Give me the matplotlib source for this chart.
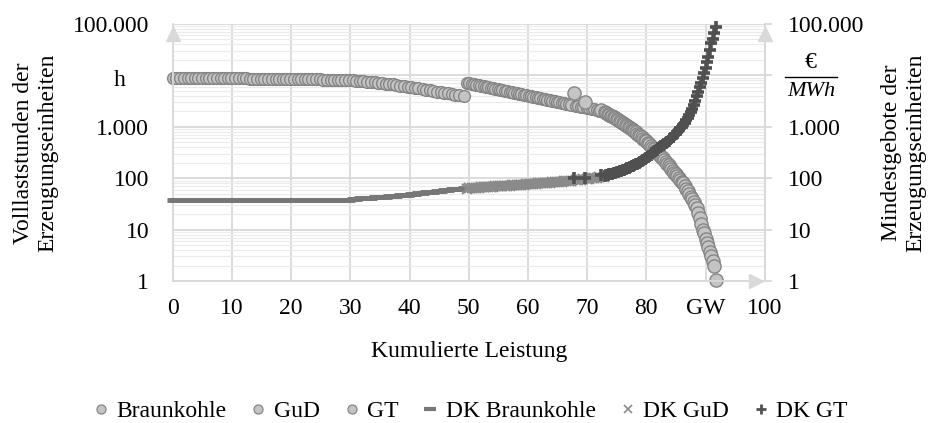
import matplotlib
matplotlib.use('Agg')
import matplotlib.pyplot as plt
from matplotlib.lines import Line2D
from matplotlib.ticker import LogLocator, NullFormatter

plt.rcParams['font.family'] = ['Liberation Serif', 'DejaVu Serif']
plt.rcParams['font.size'] = 17

# ---------------- data ----------------
x_ticks = [0, 10, 20, 30, 40, 50, 60, 70, 80, 90, 100]
x_tick_labels = ['0', '10', '20', '30', '40', '50', '60', '70', '80', 'GW', '100']
y_ticks = [1, 10, 100, 1000, 10000, 100000]
y_left_labels = ['1', '10', '100', '1.000', '', '100.000']
y_right_labels = ['1', '10', '100', '1.000', '', '100.000']

braun_x = [0.0, 0.6, 1.2, 1.9, 2.5, 3.1, 3.7, 4.3, 5.0, 5.6,
           6.2, 6.8, 7.4, 8.1, 8.7, 9.3, 9.9, 10.5, 11.2, 11.8,
           12.4, 13.0, 13.6, 14.3, 14.9, 15.5, 16.1, 16.7, 17.4, 18.0,
           18.6, 19.2, 19.8, 20.5, 21.1, 21.7, 22.3, 22.9, 23.6, 24.2,
           24.8, 25.4, 26.0, 26.7, 27.3, 27.9, 28.5, 29.1, 29.8, 30.4,
           31.0, 31.6, 32.2, 32.9, 33.5, 34.1, 34.7, 35.3, 36.0, 36.6,
           37.2, 37.8, 38.4, 39.1, 39.7, 40.3, 40.9, 41.5, 42.2, 42.8,
           43.4, 44.0, 44.6, 45.3, 45.9, 46.5, 47.1, 47.7, 48.4, 49.2]
braun_h = [8800, 8800, 8800, 8800, 8800, 8800, 8800, 8800, 8800, 8750,
           8750, 8750, 8750, 8750, 8750, 8700, 8700, 8700, 8700, 8700,
           8700, 8650, 8650, 8650, 8650, 8600, 8600, 8600, 8600, 8550,
           8550, 8550, 8500, 8500, 8500, 8450, 8450, 8400, 8400, 8350,
           8350, 8300, 8300, 8250, 8200, 8200, 8150, 8100, 8050, 8000,
           7900, 7800, 7700, 7600, 7500, 7400, 7250, 7100, 6950, 6800,
           6650, 6500, 6350, 6200, 6050, 5900, 5750, 5600, 5450, 5300,
           5150, 5000, 4850, 4700, 4580, 4460, 4340, 4220, 4110, 4000]
dk_braun = [37, 37, 37, 37, 37, 37, 37, 37, 37, 37,
            37, 37, 37, 37, 37, 37, 37, 37, 37, 37,
            37, 37, 37, 37, 37, 37, 37, 37, 37, 37,
            37, 37, 37, 37, 37, 37, 37, 37, 37, 37,
            37, 37, 37, 37, 37.5, 37.5, 38, 38, 38.5, 39,
            40, 40.5, 41, 41.5, 42, 42.5, 43, 43.5, 44, 44.5,
            45, 46, 46.5, 47.5, 48, 49, 50, 51, 52, 53,
            54, 55, 56, 57, 58, 59.5, 61, 62, 63, 64]

gud_x = [49.7, 50.1, 50.5, 50.9, 51.3, 51.7, 52.1, 52.5, 52.9, 53.3,
         53.7, 54.1, 54.5, 54.9, 55.3, 55.7, 56.1, 56.5, 56.9, 57.3,
         57.7, 58.1, 58.5, 58.9, 59.3, 59.7, 60.1, 60.5, 60.9, 61.3,
         61.7, 62.1, 62.5, 62.9, 63.3, 63.7, 64.1, 64.5, 64.9, 65.3,
         65.7, 66.1, 66.5, 66.9, 67.3, 68.1, 68.5, 68.9, 69.3, 70.0,
         70.4, 70.8, 71.2, 71.6, 72.0, 72.8]
gud_h = [7200, 7040, 6890, 6740, 6590, 6440, 6300, 6160, 6020, 5890,
         5760, 5630, 5510, 5390, 5270, 5150, 5040, 4930, 4820, 4710,
         4610, 4510, 4410, 4310, 4220, 4120, 4030, 3940, 3860, 3770,
         3690, 3610, 3530, 3450, 3370, 3300, 3230, 3160, 3090, 3020,
         2950, 2890, 2820, 2760, 2700, 2580, 2520, 2470, 2410, 2320,
         2270, 2220, 2170, 2120, 2070, 1980]
dk_gud = [63, 63.5, 64, 64.5, 65, 65.5, 66, 66.5, 67, 67.5,
          68, 68.5, 69, 69.5, 70, 70.5, 71, 71.5, 72, 72.5,
          73, 73.5, 74, 74.5, 75, 75.5, 76, 77, 77.5, 78,
          79, 79.5, 80, 81, 81.5, 82, 83, 84, 84.5, 85.5,
          86, 87, 88, 89, 90, 91.5, 92.5, 93.5, 95, 97,
          98, 99.5, 101, 102.5, 104, 107]

gt_x = [67.7, 69.6, 72.4,
        73.0, 73.25, 73.5, 73.75, 74.0, 74.25, 74.5, 74.75, 75.0, 75.25,
        75.5, 75.75, 76.0, 76.25, 76.5, 76.75, 77.0, 77.25, 77.5, 77.75,
        78.0, 78.25, 78.5, 78.75, 79.0, 79.25, 79.5, 79.75, 80.0, 80.25,
        80.5, 80.75, 81.0, 81.25, 81.5, 81.75, 82.0, 82.25, 82.5, 82.75,
        83.0, 83.25, 83.5, 83.75, 84.0, 84.25, 84.5, 84.75, 85.0, 85.25,
        85.5, 85.75, 86.0, 86.25, 86.5, 86.75, 87.0, 87.25, 87.5, 87.75,
        88.0, 88.25, 88.5, 88.75, 89.0, 89.25, 89.5, 89.75, 90.0, 90.25,
        90.5, 90.75, 91.0, 91.25, 91.5, 91.8]
gt_h = [4470, 3090, 2130,
        1900, 1840, 1780, 1720, 1650, 1590, 1530, 1470, 1410, 1360,
        1300, 1250, 1200, 1150, 1100, 1050, 1000, 960, 920, 870,
        820, 780, 740, 700, 660, 625, 590, 555, 520, 490,
        455, 425, 395, 370, 345, 320, 300, 280, 260, 242,
        225, 208, 193, 178, 165, 152, 140, 129, 119, 110,
        101, 94, 86, 79, 71, 63, 56, 50, 44, 39,
        34, 30, 26, 21, 17, 13, 10, 8.5, 6.5, 5.5,
        4.5, 3.6, 3.0, 2.5, 2.0, 1.05]
dk_gt = [100, 100, 115,
         112, 114, 116, 118, 120, 122, 125, 128, 131, 134,
         137, 140, 143, 147, 151, 155, 159, 164, 169, 174,
         180, 186, 193, 200, 208, 216, 225, 235, 245, 258,
         272, 288, 305, 323, 343, 360, 380, 400, 420, 440,
         460, 485, 510, 540, 570, 605, 640, 690, 740, 800,
         860, 930, 1000, 1100, 1200, 1350, 1500, 1700, 1950, 2250,
         2650, 3200, 3900, 4800, 5900, 7200, 8800, 11000, 14000, 18000,
         23000, 31000, 42000, 52000, 66000, 88000]

legend_labels = ['Braunkohle', 'GuD', 'GT', 'DK Braunkohle', 'DK GuD', 'DK GT']

# ---------------- styles ----------------
GRID = '#d9d9d9'
MINOR = '#ebebeb'
FACE = '#c4c4c4'
EDGE = '#858585'
circ = dict(ls='none', marker='o', ms=8.5, mfc=FACE, mec=EDGE, mew=1.0, clip_on=False)

fig = plt.figure(figsize=(9.31, 4.23), dpi=100)
ax = fig.add_axes([0.1855, 0.3357, 0.6359, 0.6076])
ax.set_xlim(0, 100)
ax.set_yscale('log')
ax.set_ylim(1, 1e5)
ax.set_xticks(x_ticks)
ax.set_xticklabels(x_tick_labels)
ax.set_yticks(y_ticks)
ax.set_yticklabels(y_left_labels)
ax.yaxis.set_minor_locator(LogLocator(base=10, subs=range(2, 10), numticks=20))
ax.yaxis.set_minor_formatter(NullFormatter())
ax.set_axisbelow(True)
ax.grid(which='major', color=GRID, lw=1.3)
ax.grid(which='minor', axis='y', color=MINOR, lw=0.8)
ax.tick_params(axis='both', which='both', length=0)
ax.tick_params(axis='x', pad=12)
ax.tick_params(axis='y', pad=17)
for s in ['left', 'bottom', 'right']:
    ax.spines[s].set_color(GRID)
    ax.spines[s].set_linewidth(1.3)
ax.spines['top'].set_visible(False)

ax.plot(braun_x, braun_h, **circ)
ax.plot(gud_x, gud_h, **circ)
ax.plot(gt_x, gt_h, **dict(circ, ms=9.5))

ax2 = ax.twinx()
ax2.set_yscale('log')
ax2.set_ylim(1, 1e5)
ax2.set_yticks(y_ticks)
ax2.set_yticklabels(y_right_labels)
ax2.yaxis.set_minor_formatter(NullFormatter())
ax2.tick_params(axis='y', which='major', length=5, color=GRID, width=1.3, pad=12)
ax2.tick_params(axis='y', which='minor', length=0)
for s in ['left', 'top', 'bottom']:
    ax2.spines[s].set_visible(False)
ax2.spines['right'].set_color(GRID)
ax2.spines['right'].set_linewidth(1.3)

ax2.plot(braun_x, dk_braun, ls='none', marker='_', ms=8, mew=3.5, color='#777777', clip_on=False)
ax2.plot(gud_x, dk_gud, ls='none', marker='x', ms=7, mew=1.5, color='#8a8a8a', clip_on=False)
ax2.plot(gt_x, dk_gt, ls='none', marker='+', ms=9, mew=2.6, color='#505050', clip_on=False)

# arrows
for xa, ya, m in [(0, 0.961, '^'), (1, 0.961, '^'), (0.985, 0, '>')]:
    ax2.plot([xa], [ya], marker=m, ms=10, color=GRID, transform=ax2.transAxes, clip_on=False)

# unit labels
fig.text(120 / 931, 1 - 80 / 423, 'h', ha='center', va='center')
fig.text(811 / 931, 1 - 62 / 423, '€', ha='center', va='center')
fig.add_artist(Line2D([785 / 931, 837 / 931], [1 - 77 / 423] * 2, transform=fig.transFigure,
                      color='black', lw=1))
fig.text(811 / 931, 1 - 91 / 423, 'MWh', ha='center', va='center', style='italic', fontsize=16)

# axis titles
fig.text(36 / 931, 1 - 153 / 423, 'Volllaststunden der\nErzeugungseinheiten', rotation=90,
         ha='center', va='center', multialignment='center')
fig.text(904 / 931, 1 - 153 / 423, 'Mindestgebote der\nErzeugungseinheiten', rotation=90,
         ha='center', va='center', multialignment='center')
fig.text(468.7 / 931, 1 - 351 / 423, 'Kumulierte Leistung', ha='center', va='center')

# legend
handles = [
    Line2D([], [], ls='none', marker='o', ms=6.5, mfc=FACE, mec=EDGE, mew=0.9),
    Line2D([], [], ls='none', marker='o', ms=6.5, mfc=FACE, mec=EDGE, mew=0.9),
    Line2D([], [], ls='none', marker='o', ms=6.5, mfc=FACE, mec=EDGE, mew=0.9),
    Line2D([], [], ls='none', marker='_', ms=8, mew=3, color='#777777'),
    Line2D([], [], ls='none', marker='x', ms=6, mew=1.2, color='#8a8a8a'),
    Line2D([], [], ls='none', marker='+', ms=7, mew=2, color='#505050'),
]
fig.legend(handles, legend_labels, loc='center', bbox_to_anchor=(0.505, 0.028), ncol=6,
           frameon=False, handlelength=0.7, handletextpad=0.3, columnspacing=1.0, fontsize=17)

fig.savefig('out.png', dpi=100)
